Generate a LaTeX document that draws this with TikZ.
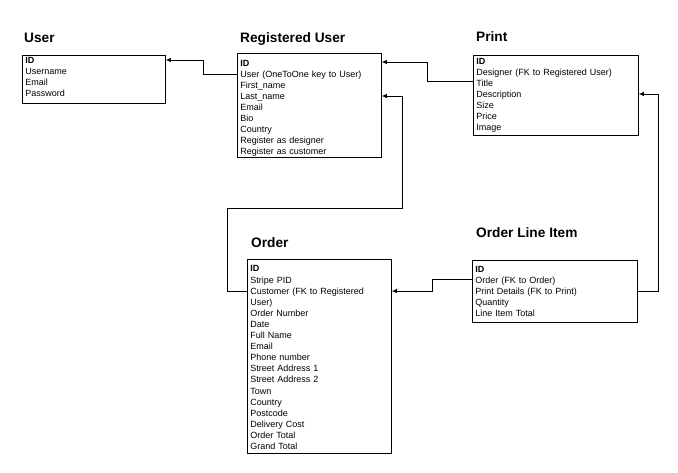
\documentclass[tikz,border=0pt]{standalone}
\usepackage{fontspec}
\setmainfont{Liberation Sans}
\usetikzlibrary{arrows.meta}
\begin{document}
\begin{tikzpicture}[x=1pt,y=-1pt,
  entity/.style 2 args={draw, line width=0.8pt, anchor=north west, align=left,
    inner xsep=3pt, inner ysep=0pt, font=\fontsize{9}{11}\selectfont,
    execute at begin node={\rule{0pt}{#1}},
    execute at end node={\rule[-#2]{0pt}{0pt}}},
  etitle/.style={anchor=base west, inner sep=0pt, font=\fontsize{13.7}{16}\selectfont\bfseries},
  link/.style={line width=0.8pt, -{Latex[length=5pt,width=4.5pt]}}]
\useasboundingbox (0,0) rectangle (678,472);
\fill[white] (0,0) rectangle (678,472);

\node[etitle] (tuser) at (24,42) {User};
\node[entity={8.5pt}{6.5pt}, text width=137pt] (user) at (22,55) {\textbf{ID}\\Username\\Email\\Password};

\node[etitle] (tru) at (240,42.5) {Registered User};
\node[entity={13.5pt}{2.5pt}, text width=138pt] (ru) at (237,53) {\textbf{ID}\\User (OneToOne key to User)\\First\_name\\Last\_name\\Email\\Bio\\Country\\Register as designer\\Register as customer};

\node[etitle] (tprint) at (476,41.5) {Print};
\node[entity={9.5pt}{4.5pt}, text width=159pt] (print) at (473,55) {\textbf{ID}\\Designer (FK to Registered User)\\Title\\Description\\Size\\Price\\Image};

\node[etitle] (torder) at (251,247.5) {Order};
\node[entity={12.5pt}{3.5pt}, text width=138pt, font=\fontsize{9}{11.1}\selectfont] (order) at (247,259) {\textbf{ID}\\Stripe PID\\Customer (FK to Registered\\User)\\Order Number\\Date\\Full Name\\Email\\Phone number\\Street Address 1\\Street Address 2\\Town\\Country\\Postcode\\Delivery Cost\\Order Total\\Grand Total};

\node[etitle] (toli) at (476,237.5) {Order Line Item};
\node[entity={12.5pt}{5.5pt}, text width=159pt] (oli) at (472,260) {\textbf{ID}\\Order (FK to Order)\\Print Details (FK to Print)\\Quantity\\Line Item Total};

% Registered User -> User
\draw[link] (ru.west |- 0,74) -| (203,60) -- (user.east |- 0,60);
% Print -> Registered User
\draw[link] (print.west |- 0,81) -| (427,62) -- (ru.east |- 0,62);
% Order -> Registered User
\draw[link] (order.west |- 0,291) -| (227,208) -| (402,96) -- (ru.east |- 0,96);
% Order Line Item -> Order
\draw[link] (oli.west |- 0,279) -| (432,291) -- (order.east |- 0,291);
% Order Line Item -> Print
\draw[link] (oli.east |- 0,291) -| (658,94) -- (print.east |- 0,94);
\end{tikzpicture}
\end{document}
